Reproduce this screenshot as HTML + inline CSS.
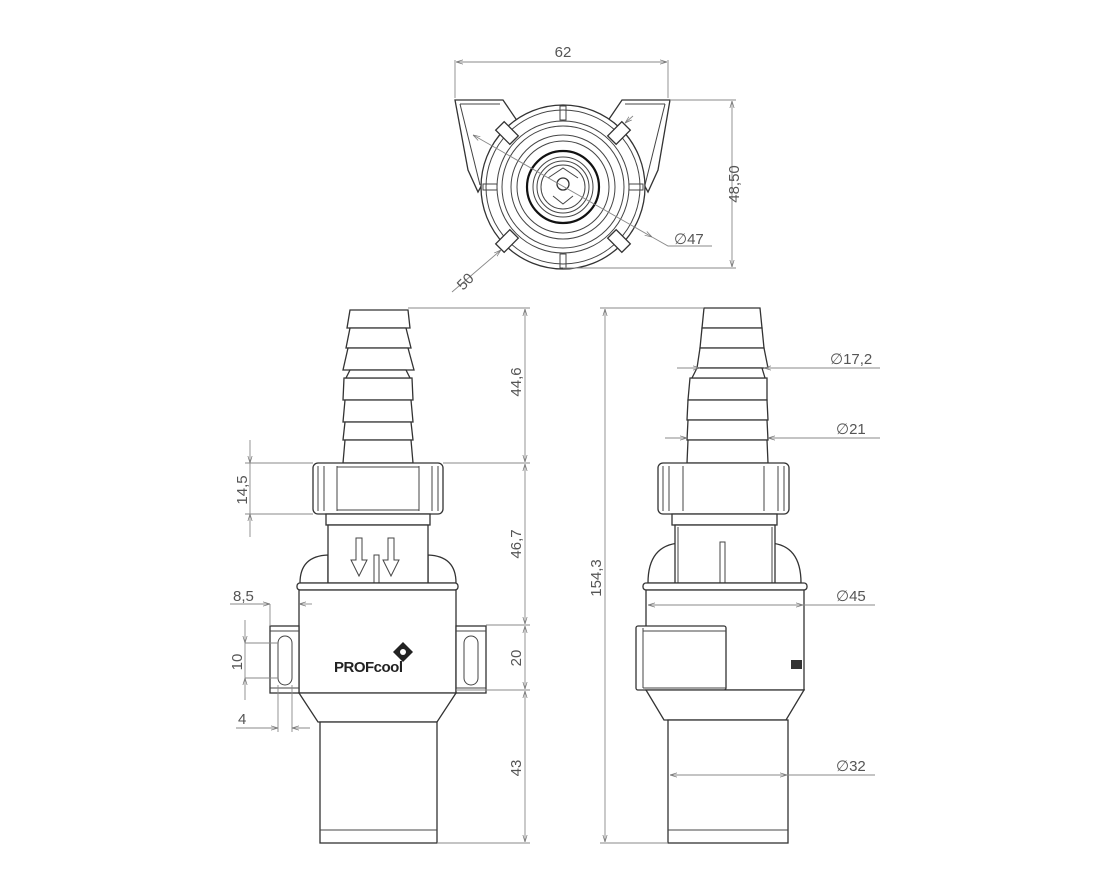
<!DOCTYPE html>
<html><head><meta charset="utf-8"><style>
html,body{margin:0;padding:0;background:#fff}
svg{display:block}
text{font-family:"Liberation Sans",sans-serif;font-size:15px;fill:#555}
.o{fill:#fff;stroke:#333;stroke-width:1.3}
.t{fill:none;stroke:#444;stroke-width:1}
.d{fill:none;stroke:#888;stroke-width:0.9}
</style></head><body>
<svg width="1115" height="879" viewBox="0 0 1115 879" xmlns="http://www.w3.org/2000/svg">
<defs>
<marker id="a" viewBox="0 0 10 10" refX="10" refY="5" markerWidth="8" markerHeight="8" orient="auto-start-reverse"><path d="M0,2 L10,5 L0,8" fill="none" stroke="#777"/></marker>
</defs>

<!-- ===== TOP VIEW ===== -->
<g>
<polygon class="o" points="455,100 503,100 522,128 500,152 478,192 468,170"/>
<polygon class="o" points="670,100 622,100 603,128 626,152 648,192 658,170"/>
<line class="t" x1="460" y1="104" x2="500" y2="104"/><line class="t" x1="665" y1="104" x2="625" y2="104"/>
<line class="t" x1="460" y1="104" x2="480" y2="185"/><line class="t" x1="665" y1="104" x2="645" y2="185"/>
<circle class="o" cx="563" cy="187" r="82"/>
<circle class="t" cx="563" cy="187" r="77"/>
<circle class="t" cx="563" cy="187" r="66"/>
<circle class="t" cx="563" cy="187" r="61"/>
<circle class="t" cx="563" cy="187" r="52"/>
<circle class="t" cx="563" cy="187" r="46"/>
<circle cx="563" cy="187" r="36" fill="none" stroke="#111" stroke-width="2.2"/>
<circle class="t" cx="563" cy="187" r="30"/>
<circle class="t" cx="563" cy="187" r="26"/>
<circle class="t" cx="563" cy="187" r="22"/>
<path class="t" d="M548,178 L563,168 L578,178 M553,196 L563,204 L573,196"/>
<circle class="o" cx="563" cy="184" r="6"/>
<g class="t">
<rect x="560" y="106" width="6" height="14"/><rect x="560" y="254" width="6" height="14"/>
<rect x="483" y="184" width="14" height="6"/><rect x="629" y="184" width="14" height="6"/>
</g>
<g transform="translate(507,133) rotate(45)"><rect class="o" x="-10" y="-6" width="20" height="12"/></g>
<g transform="translate(619,133) rotate(-45)"><rect class="o" x="-10" y="-6" width="20" height="12"/></g>
<g transform="translate(507,241) rotate(-45)"><rect class="o" x="-10" y="-6" width="20" height="12"/></g>
<g transform="translate(619,241) rotate(45)"><rect class="o" x="-10" y="-6" width="20" height="12"/></g>
<!-- dims -->
<line class="d" x1="455" y1="60" x2="455" y2="98"/><line class="d" x1="668" y1="60" x2="668" y2="98"/>
<line class="d" x1="456" y1="62" x2="667" y2="62" marker-start="url(#a)" marker-end="url(#a)"/>
<text x="563" y="57" text-anchor="middle">62</text>
<line class="d" x1="670" y1="100" x2="736" y2="100"/><line class="d" x1="563" y1="268" x2="736" y2="268"/>
<line class="d" x1="732" y1="101" x2="732" y2="267" marker-start="url(#a)" marker-end="url(#a)"/>
<text transform="translate(739,184) rotate(-90)" text-anchor="middle">48,50</text>
<line class="d" x1="473" y1="135" x2="652" y2="237" marker-start="url(#a)" marker-end="url(#a)"/>
<polyline class="d" points="652,237 668,246 712,246"/>
<text x="674" y="244">∅47</text>
<line class="d" x1="501" y1="250" x2="452" y2="292" marker-start="url(#a)"/>
<line class="d" x1="625" y1="123" x2="633" y2="116" marker-start="url(#a)"/>
<text transform="translate(463,291) rotate(-45)">50</text>
</g>

<!-- ===== LEFT VIEW ===== -->
<g>
<path class="o" d="M350,310 L408,310 L410,328 L347,328 Z"/>
<path class="o" d="M350,328 L406,328 L411,348 L346,348 Z"/>
<path class="o" d="M348,348 L408,348 L414,370 L343,370 Z"/>
<path class="o" d="M344,378 L412,378 L413,400 L343,400 Z"/>
<path class="o" d="M346,378 L410,378 L406,370 L350,370 Z"/>
<path class="o" d="M345,400 L411,400 L413,422 L343,422 Z"/>
<path class="o" d="M345,422 L411,422 L413,440 L343,440 Z"/>
<path class="o" d="M345,440 L411,440 L413,463 L343,463 Z"/>
<rect class="o" x="313" y="463" width="130" height="51" rx="5"/>
<line class="t" x1="318" y1="466" x2="318" y2="511"/><line class="t" x1="324" y1="466" x2="324" y2="511"/><line class="t" x1="337" y1="466" x2="337" y2="511"/>
<line class="t" x1="438" y1="466" x2="438" y2="511"/><line class="t" x1="432" y1="466" x2="432" y2="511"/><line class="t" x1="419" y1="466" x2="419" y2="511"/>
<line class="t" x1="337" y1="467" x2="419" y2="467"/><line class="t" x1="337" y1="510" x2="419" y2="510"/>
<rect class="o" x="326" y="514" width="104" height="11"/>
<path class="o" d="M300,583 Q300,556 328,555 L328,583 Z"/>
<path class="o" d="M456,583 Q456,556 428,555 L428,583 Z"/>
<rect class="o" x="328" y="525" width="100" height="58"/>
<path class="t" d="M356,538 L362,538 L362,560 L367,560 L359,576 L351,560 L356,560 Z"/>
<path class="t" d="M388,538 L394,538 L394,560 L399,560 L391,576 L383,560 L388,560 Z"/>
<rect class="t" x="374" y="555" width="5" height="28"/>
<rect class="o" x="297" y="583" width="161" height="7" rx="3"/>
<rect class="o" x="299" y="590" width="157" height="103"/>
<rect class="o" x="270" y="626" width="29" height="67"/>
<rect class="o" x="456" y="626" width="30" height="67"/>
<line class="t" x1="270" y1="631" x2="299" y2="631"/><line class="t" x1="270" y1="688" x2="299" y2="688"/>
<line class="t" x1="456" y1="631" x2="486" y2="631"/><line class="t" x1="456" y1="688" x2="486" y2="688"/>
<rect class="t" x="278" y="636" width="14" height="49" rx="7"/>
<rect class="t" x="464" y="636" width="14" height="49" rx="7"/>
<path class="o" d="M299,693 L456,693 L437,722 L318,722 Z"/>
<rect class="o" x="320" y="722" width="117" height="121"/>
<line class="t" x1="320" y1="830" x2="437" y2="830"/>
<path d="M403,642 L413,652 L403,662 L393,652 Z" fill="#222"/>
<circle cx="403" cy="652" r="3" fill="#fff"/>
<text x="334" y="672" style="font-size:15px;fill:#222;font-weight:bold;letter-spacing:-0.5px">PROFcool</text>
<!-- dims -->
<line class="d" x1="408" y1="308" x2="530" y2="308"/><line class="d" x1="443" y1="463" x2="530" y2="463"/>
<line class="d" x1="486" y1="625" x2="530" y2="625"/><line class="d" x1="456" y1="690" x2="530" y2="690"/>
<line class="d" x1="437" y1="843" x2="530" y2="843"/>
<line class="d" x1="525" y1="309" x2="525" y2="462" marker-start="url(#a)" marker-end="url(#a)"/>
<line class="d" x1="525" y1="464" x2="525" y2="624" marker-start="url(#a)" marker-end="url(#a)"/>
<line class="d" x1="525" y1="626" x2="525" y2="689" marker-start="url(#a)" marker-end="url(#a)"/>
<line class="d" x1="525" y1="691" x2="525" y2="842" marker-start="url(#a)" marker-end="url(#a)"/>
<text transform="translate(521,382) rotate(-90)" text-anchor="middle">44,6</text>
<text transform="translate(521,544) rotate(-90)" text-anchor="middle">46,7</text>
<text transform="translate(521,658) rotate(-90)" text-anchor="middle">20</text>
<text transform="translate(521,768) rotate(-90)" text-anchor="middle">43</text>
<line class="d" x1="245" y1="463" x2="313" y2="463"/><line class="d" x1="245" y1="514" x2="313" y2="514"/>
<line class="d" x1="250" y1="440" x2="250" y2="463" marker-end="url(#a)"/>
<line class="d" x1="250" y1="463" x2="250" y2="514"/>
<line class="d" x1="250" y1="537" x2="250" y2="514" marker-end="url(#a)"/>
<text transform="translate(247,490) rotate(-90)" text-anchor="middle">14,5</text>
<line class="d" x1="230" y1="604" x2="262" y2="604"/>
<line class="d" x1="270" y1="604" x2="250" y2="604" marker-start="url(#a)"/>
<line class="d" x1="299" y1="604" x2="312" y2="604" marker-start="url(#a)"/>
<line class="d" x1="270" y1="604" x2="270" y2="626"/>
<text x="233" y="601">8,5</text>
<line class="d" x1="245" y1="643" x2="278" y2="643"/><line class="d" x1="245" y1="678" x2="278" y2="678"/>
<line class="d" x1="245" y1="620" x2="245" y2="643" marker-end="url(#a)"/>
<line class="d" x1="245" y1="643" x2="245" y2="678"/>
<line class="d" x1="245" y1="700" x2="245" y2="678" marker-end="url(#a)"/>
<text transform="translate(242,662) rotate(-90)" text-anchor="middle">10</text>
<line class="d" x1="278" y1="685" x2="278" y2="732"/><line class="d" x1="292" y1="685" x2="292" y2="732"/>
<line class="d" x1="236" y1="728" x2="278" y2="728" marker-end="url(#a)"/>
<line class="d" x1="310" y1="728" x2="292" y2="728" marker-end="url(#a)"/>
<text x="238" y="724">4</text>
</g>

<!-- ===== RIGHT VIEW ===== -->
<g>
<path class="o" d="M704,308 L760,308 L762,328 L702,328 Z"/>
<path class="o" d="M702,328 L762,328 L764,348 L700,348 Z"/>
<path class="o" d="M700,348 L764,348 L768,368 L697,368 Z"/>
<path class="o" d="M690,378 L767,378 L767,400 L688,400 Z"/>
<path class="o" d="M692,378 L765,378 L762,368 L697,368 Z"/>
<path class="o" d="M688,400 L767,400 L768,420 L687,420 Z"/>
<path class="o" d="M688,420 L767,420 L768,440 L687,440 Z"/>
<path class="o" d="M688,440 L767,440 L768,463 L687,463 Z"/>
<rect class="o" x="658" y="463" width="131" height="51" rx="5"/>
<line class="t" x1="663" y1="466" x2="663" y2="511"/><line class="t" x1="669" y1="466" x2="669" y2="511"/><line class="t" x1="683" y1="466" x2="683" y2="511"/>
<line class="t" x1="784" y1="466" x2="784" y2="511"/><line class="t" x1="778" y1="466" x2="778" y2="511"/><line class="t" x1="764" y1="466" x2="764" y2="511"/>
<rect class="o" x="672" y="514" width="105" height="11"/>
<path class="o" d="M648,583 Q648,545 680,543 L680,583 Z"/>
<path class="o" d="M801,583 Q801,545 770,543 L770,583 Z"/>
<rect class="o" x="675" y="525" width="100" height="58"/>
<rect class="t" x="720" y="542" width="5" height="41"/>
<line class="t" x1="678" y1="527" x2="678" y2="583"/><line class="t" x1="772" y1="527" x2="772" y2="583"/>
<rect class="o" x="643" y="583" width="164" height="7" rx="3"/>
<rect class="o" x="646" y="590" width="158" height="100"/>
<rect class="o" x="636" y="626" width="90" height="64" rx="2"/>
<line class="t" x1="643" y1="628" x2="643" y2="688"/>
<line class="t" x1="643" y1="631" x2="726" y2="631"/><line class="t" x1="643" y1="688" x2="726" y2="688"/>
<rect x="791" y="660" width="11" height="9" fill="#333"/>
<path class="o" d="M646,690 L804,690 L786,720 L664,720 Z"/>
<rect class="o" x="668" y="720" width="120" height="123"/>
<line class="t" x1="668" y1="830" x2="788" y2="830"/>
<!-- dims -->
<line class="d" x1="600" y1="308" x2="703" y2="308"/><line class="d" x1="600" y1="843" x2="668" y2="843"/>
<line class="d" x1="605" y1="309" x2="605" y2="842" marker-start="url(#a)" marker-end="url(#a)"/>
<text transform="translate(601,578) rotate(-90)" text-anchor="middle">154,3</text>
<line class="d" x1="677" y1="368" x2="700" y2="368" marker-end="url(#a)"/>
<line class="d" x1="880" y1="368" x2="764" y2="368" marker-end="url(#a)"/>
<text x="830" y="364">∅17,2</text>
<line class="d" x1="665" y1="438" x2="687" y2="438" marker-end="url(#a)"/>
<line class="d" x1="880" y1="438" x2="768" y2="438" marker-end="url(#a)"/>
<text x="836" y="434">∅21</text>
<line class="d" x1="648" y1="605" x2="803" y2="605" marker-start="url(#a)" marker-end="url(#a)"/>
<line class="d" x1="803" y1="605" x2="875" y2="605"/>
<text x="836" y="601">∅45</text>
<line class="d" x1="670" y1="775" x2="787" y2="775" marker-start="url(#a)" marker-end="url(#a)"/>
<line class="d" x1="787" y1="775" x2="875" y2="775"/>
<text x="836" y="771">∅32</text>
</g>
</svg>
</body></html>
